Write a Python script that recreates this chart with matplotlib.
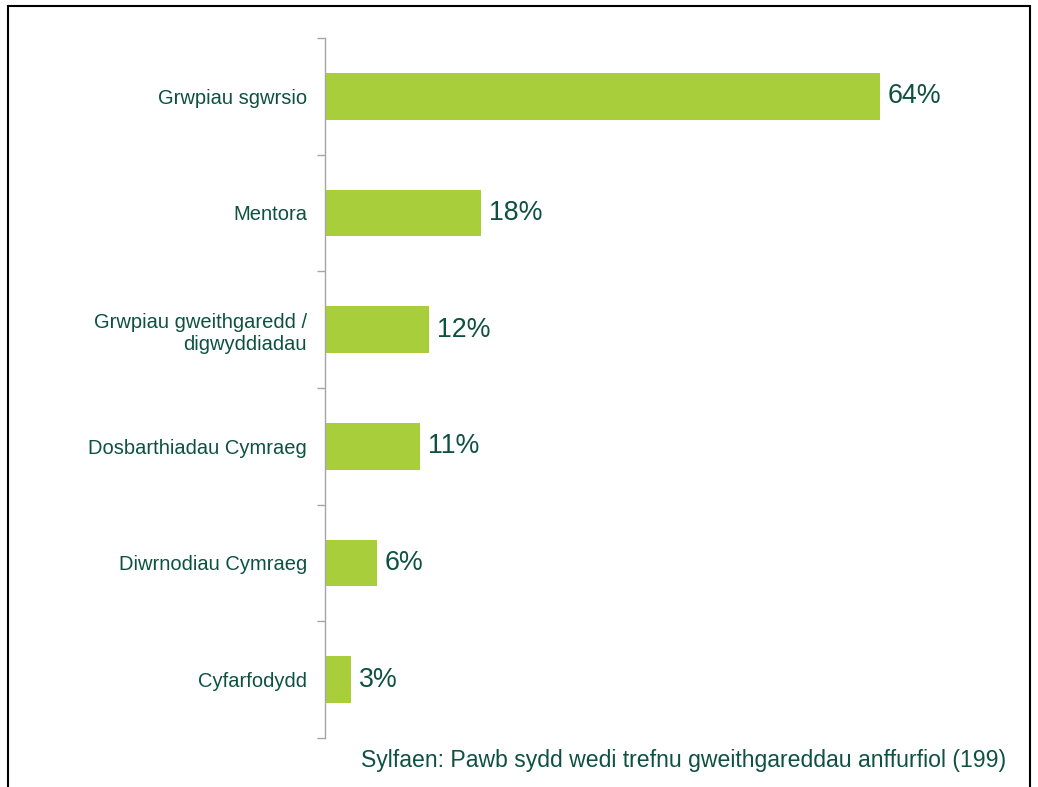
import matplotlib
matplotlib.use("Agg")
import matplotlib.pyplot as plt
from matplotlib.patches import Rectangle
from matplotlib.ticker import FixedLocator, NullLocator

categories = [
    "Grwpiau sgwrsio",
    "Mentora",
    "Grwpiau gweithgaredd /\ndigwyddiadau",
    "Dosbarthiadau Cymraeg",
    "Diwrnodiau Cymraeg",
    "Cyfarfodydd",
]
values = [64, 18, 12, 11, 6, 3]
value_labels = ["64%", "18%", "12%", "11%", "6%", "3%"]
footnote = "Sylfaen: Pawb sydd wedi trefnu gweithgareddau anffurfiol (199)"

BAR = "#a8cf3b"
TEXT = "#0e5140"
AXIS = "#a6a6a6"

plt.rcParams["font.family"] = ["Liberation Sans", "DejaVu Sans"]

fig = plt.figure(figsize=(10.38, 7.87), dpi=100)
ax = fig.add_axes([325 / 1038, 1 - 738 / 787, 675 / 1038, 700 / 787])

pos = list(range(len(categories)))
ax.barh(pos, values, height=0.4, color=BAR)
ax.set_ylim(len(categories) - 0.5, -0.5)
ax.set_xlim(0, 675 / 8.67)

for p, v, lab in zip(pos, values, value_labels):
    ax.text(v + 0.9, p, lab, va="center", ha="left", fontsize=19.3, color=TEXT)

ax.yaxis.set_major_locator(FixedLocator(pos))
ax.set_yticklabels(categories, fontsize=14.5, color=TEXT, ha="right")
ax.yaxis.set_minor_locator(FixedLocator([p - 0.5 for p in pos] + [len(pos) - 0.5]))
ax.tick_params(axis="y", which="major", length=0, pad=13)
ax.tick_params(axis="y", which="minor", length=6, color=AXIS, width=1)
ax.xaxis.set_major_locator(NullLocator())

for side in ["top", "right", "bottom"]:
    ax.spines[side].set_visible(False)
ax.spines["left"].set_color(AXIS)
ax.spines["left"].set_linewidth(1)

fig.text(361 / 1038, 1 - 760 / 787, footnote, fontsize=16.6, color=TEXT,
         ha="left", va="center")

fig.patches.append(Rectangle((8 / 1038, -0.05), 1022 / 1038, 1.05 - 6 / 787,
                             transform=fig.transFigure, fill=False,
                             edgecolor="black", linewidth=1.5))

fig.savefig("out.png", dpi=100)
